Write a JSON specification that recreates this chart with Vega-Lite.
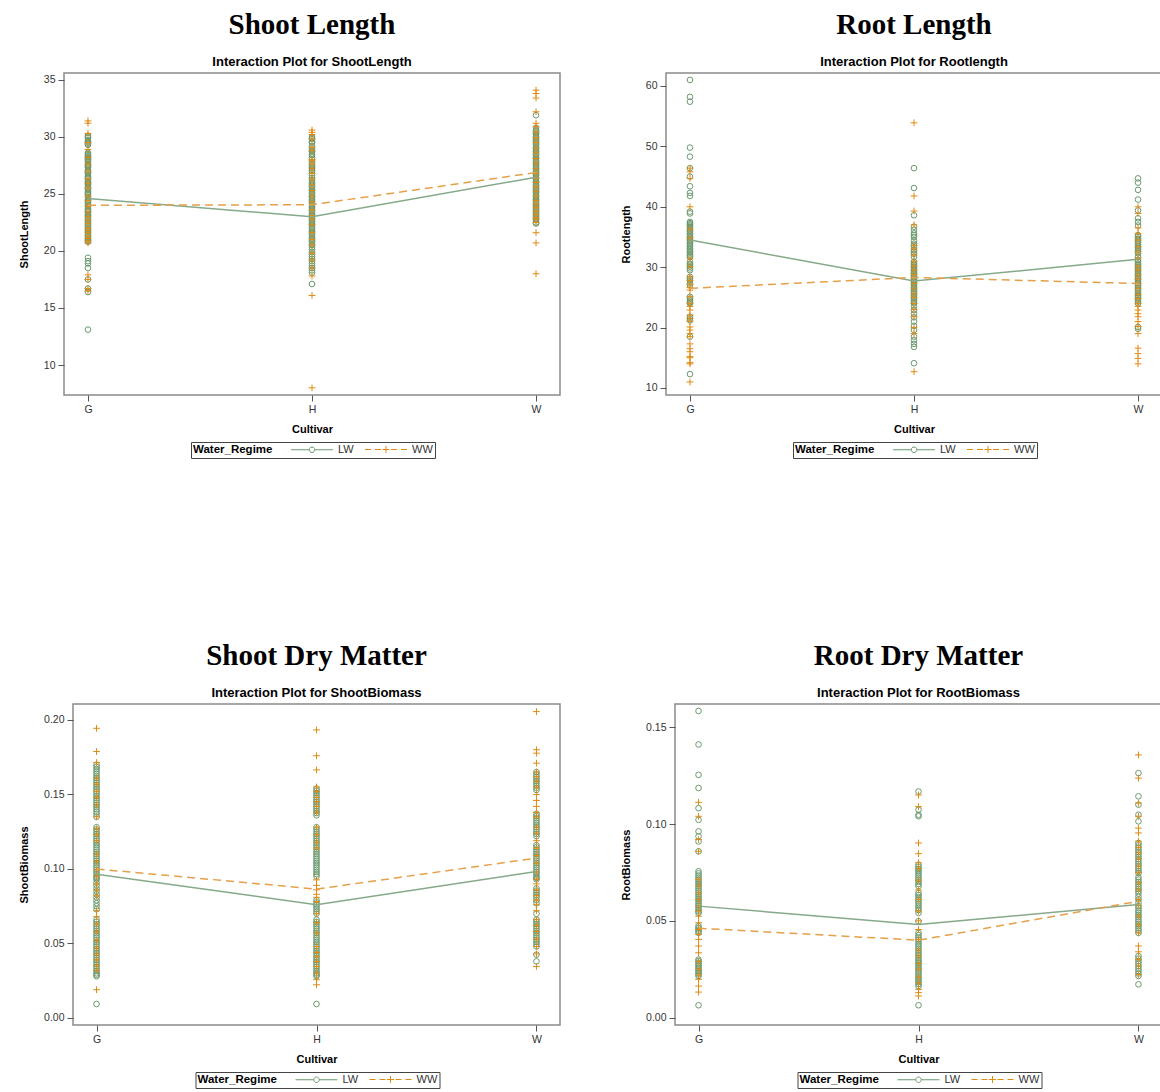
{
"$schema":"https://vega.github.io/schema/vega-lite/v6.json",
"background":"white",
"padding":{"left":16,"top":10,"right":0,"bottom":0},
"columns":2,
"align":"none",
"spacing":{"row":181,"column":0},
"resolve":{"scale":{"color":"independent"},"legend":{"color":"independent"}},
"config":{
 "font":"Liberation Sans",
 "view":{"stroke":"#8a8a8a","strokeWidth":1.5,"fill":"white"},
 "title":{"font":"Liberation Serif","fontSize":29,"fontWeight":"bold","color":"black","subtitleFont":"Liberation Sans","subtitleFontSize":13,"subtitleFontWeight":"bold","subtitleColor":"black","subtitlePadding":16,"offset":4,"anchor":"middle"},
 "axis":{"grid":false,"domain":false,"tickColor":"#555555","tickSize":6,"labelFontSize":10.5,"labelColor":"#333333","labelPadding":3,"titleFontSize":11,"titleFontWeight":"bold","titleColor":"black"},
 "axisY":{"titlePadding":14},
 "axisX":{"labelAngle":0,"titlePadding":9},
 "legend":{"orient":"none","direction":"horizontal","titleOrient":"left","fillColor":"white","strokeColor":"#444444","padding":2,"symbolSize":100,"symbolStrokeWidth":1,"labelOffset":20.5,"symbolOffset":15.5,"columnPadding":9,"titleFontSize":11.5,"titleFontWeight":"bold","titleColor":"black","titlePadding":18,"labelFontSize":11,"labelColor":"#333333"}
},
"datasets":{
"sl":[
{"c":"G","w":"LW","v":30.1},{"c":"G","w":"LW","v":29.9},{"c":"G","w":"LW","v":29.7},{"c":"G","w":"LW","v":29.5},{"c":"G","w":"LW","v":29.3},{"c":"G","w":"LW","v":28.6},{"c":"G","w":"LW","v":28.4},{"c":"G","w":"LW","v":28.2},{"c":"G","w":"LW","v":28.0},{"c":"G","w":"LW","v":27.8},{"c":"G","w":"LW","v":27.5},{"c":"G","w":"LW","v":27.3},{"c":"G","w":"LW","v":27.0},{"c":"G","w":"LW","v":26.8},{"c":"G","w":"LW","v":26.5},{"c":"G","w":"LW","v":26.3},{"c":"G","w":"LW","v":26.0},{"c":"G","w":"LW","v":25.8},{"c":"G","w":"LW","v":25.5},{"c":"G","w":"LW","v":25.2},{"c":"G","w":"LW","v":25.0},{"c":"G","w":"LW","v":24.7},{"c":"G","w":"LW","v":24.4},{"c":"G","w":"LW","v":24.2},{"c":"G","w":"LW","v":23.9},{"c":"G","w":"LW","v":23.6},{"c":"G","w":"LW","v":23.4},{"c":"G","w":"LW","v":23.1},{"c":"G","w":"LW","v":22.8},{"c":"G","w":"LW","v":22.5},{"c":"G","w":"LW","v":22.2},{"c":"G","w":"LW","v":21.9},{"c":"G","w":"LW","v":21.6},{"c":"G","w":"LW","v":21.3},{"c":"G","w":"LW","v":21.0},{"c":"G","w":"LW","v":20.8},{"c":"G","w":"LW","v":19.4},{"c":"G","w":"LW","v":19.1},{"c":"G","w":"LW","v":18.9},{"c":"G","w":"LW","v":18.5},{"c":"G","w":"LW","v":17.5},{"c":"G","w":"LW","v":16.7},{"c":"G","w":"LW","v":16.4},{"c":"G","w":"LW","v":13.1},
{"c":"G","w":"LW","v":30.0},{"c":"G","w":"LW","v":29.6},{"c":"G","w":"LW","v":29.4},{"c":"G","w":"LW","v":28.5},{"c":"G","w":"LW","v":28.3},{"c":"G","w":"LW","v":28.1},{"c":"G","w":"LW","v":27.9},{"c":"G","w":"LW","v":27.6},{"c":"G","w":"LW","v":27.4},{"c":"G","w":"LW","v":27.1},{"c":"G","w":"LW","v":26.9},{"c":"G","w":"LW","v":26.6},{"c":"G","w":"LW","v":26.4},{"c":"G","w":"LW","v":26.1},{"c":"G","w":"LW","v":25.9},{"c":"G","w":"LW","v":25.6},{"c":"G","w":"LW","v":25.4},{"c":"G","w":"LW","v":25.1},{"c":"G","w":"LW","v":24.9},{"c":"G","w":"LW","v":24.5},{"c":"G","w":"LW","v":24.3},{"c":"G","w":"LW","v":24.0},{"c":"G","w":"LW","v":23.7},{"c":"G","w":"LW","v":23.5},{"c":"G","w":"LW","v":23.2},{"c":"G","w":"LW","v":22.9},{"c":"G","w":"LW","v":22.6},{"c":"G","w":"LW","v":22.3},{"c":"G","w":"LW","v":22.0},{"c":"G","w":"LW","v":21.7},{"c":"G","w":"LW","v":21.4},{"c":"G","w":"LW","v":21.1},{"c":"G","w":"LW","v":20.9},
{"c":"H","w":"LW","v":30.0},{"c":"H","w":"LW","v":29.8},{"c":"H","w":"LW","v":29.5},{"c":"H","w":"LW","v":29.0},{"c":"H","w":"LW","v":28.7},{"c":"H","w":"LW","v":28.4},{"c":"H","w":"LW","v":28.0},{"c":"H","w":"LW","v":27.6},{"c":"H","w":"LW","v":27.3},{"c":"H","w":"LW","v":27.0},{"c":"H","w":"LW","v":26.6},{"c":"H","w":"LW","v":26.2},{"c":"H","w":"LW","v":25.9},{"c":"H","w":"LW","v":25.6},{"c":"H","w":"LW","v":25.3},{"c":"H","w":"LW","v":25.0},{"c":"H","w":"LW","v":24.7},{"c":"H","w":"LW","v":24.4},{"c":"H","w":"LW","v":24.1},{"c":"H","w":"LW","v":23.8},{"c":"H","w":"LW","v":23.5},{"c":"H","w":"LW","v":23.2},{"c":"H","w":"LW","v":22.9},{"c":"H","w":"LW","v":22.6},{"c":"H","w":"LW","v":22.3},{"c":"H","w":"LW","v":22.0},{"c":"H","w":"LW","v":21.7},{"c":"H","w":"LW","v":21.4},{"c":"H","w":"LW","v":21.1},{"c":"H","w":"LW","v":20.8},{"c":"H","w":"LW","v":20.5},{"c":"H","w":"LW","v":20.1},{"c":"H","w":"LW","v":19.7},{"c":"H","w":"LW","v":19.3},{"c":"H","w":"LW","v":18.9},{"c":"H","w":"LW","v":18.5},{"c":"H","w":"LW","v":18.1},{"c":"H","w":"LW","v":17.1},
{"c":"H","w":"LW","v":29.9},{"c":"H","w":"LW","v":29.6},{"c":"H","w":"LW","v":29.2},{"c":"H","w":"LW","v":28.8},{"c":"H","w":"LW","v":28.5},{"c":"H","w":"LW","v":28.2},{"c":"H","w":"LW","v":27.8},{"c":"H","w":"LW","v":27.4},{"c":"H","w":"LW","v":27.1},{"c":"H","w":"LW","v":26.8},{"c":"H","w":"LW","v":26.4},{"c":"H","w":"LW","v":26.0},{"c":"H","w":"LW","v":25.7},{"c":"H","w":"LW","v":25.4},{"c":"H","w":"LW","v":25.1},{"c":"H","w":"LW","v":24.8},{"c":"H","w":"LW","v":24.5},{"c":"H","w":"LW","v":24.2},{"c":"H","w":"LW","v":23.9},{"c":"H","w":"LW","v":23.6},{"c":"H","w":"LW","v":23.3},{"c":"H","w":"LW","v":23.0},{"c":"H","w":"LW","v":22.7},{"c":"H","w":"LW","v":22.4},{"c":"H","w":"LW","v":22.1},{"c":"H","w":"LW","v":21.8},{"c":"H","w":"LW","v":21.5},{"c":"H","w":"LW","v":21.2},{"c":"H","w":"LW","v":20.9},{"c":"H","w":"LW","v":20.6},{"c":"H","w":"LW","v":20.3},{"c":"H","w":"LW","v":19.9},{"c":"H","w":"LW","v":19.5},{"c":"H","w":"LW","v":19.1},{"c":"H","w":"LW","v":18.7},{"c":"H","w":"LW","v":18.3},
{"c":"W","w":"LW","v":31.9},{"c":"W","w":"LW","v":30.8},{"c":"W","w":"LW","v":30.5},{"c":"W","w":"LW","v":30.2},{"c":"W","w":"LW","v":29.9},{"c":"W","w":"LW","v":29.6},{"c":"W","w":"LW","v":29.3},{"c":"W","w":"LW","v":29.0},{"c":"W","w":"LW","v":28.7},{"c":"W","w":"LW","v":28.4},{"c":"W","w":"LW","v":28.1},{"c":"W","w":"LW","v":27.8},{"c":"W","w":"LW","v":27.5},{"c":"W","w":"LW","v":27.2},{"c":"W","w":"LW","v":26.9},{"c":"W","w":"LW","v":26.6},{"c":"W","w":"LW","v":26.3},{"c":"W","w":"LW","v":26.0},{"c":"W","w":"LW","v":25.7},{"c":"W","w":"LW","v":25.4},{"c":"W","w":"LW","v":25.1},{"c":"W","w":"LW","v":24.8},{"c":"W","w":"LW","v":24.5},{"c":"W","w":"LW","v":24.2},{"c":"W","w":"LW","v":23.9},{"c":"W","w":"LW","v":23.6},{"c":"W","w":"LW","v":23.3},{"c":"W","w":"LW","v":23.0},{"c":"W","w":"LW","v":22.7},{"c":"W","w":"LW","v":22.4},
{"c":"W","w":"LW","v":30.6},{"c":"W","w":"LW","v":30.3},{"c":"W","w":"LW","v":30.0},{"c":"W","w":"LW","v":29.7},{"c":"W","w":"LW","v":29.4},{"c":"W","w":"LW","v":29.1},{"c":"W","w":"LW","v":28.8},{"c":"W","w":"LW","v":28.5},{"c":"W","w":"LW","v":28.2},{"c":"W","w":"LW","v":27.9},{"c":"W","w":"LW","v":27.6},{"c":"W","w":"LW","v":27.3},{"c":"W","w":"LW","v":27.0},{"c":"W","w":"LW","v":26.7},{"c":"W","w":"LW","v":26.4},{"c":"W","w":"LW","v":26.1},{"c":"W","w":"LW","v":25.8},{"c":"W","w":"LW","v":25.5},{"c":"W","w":"LW","v":25.2},{"c":"W","w":"LW","v":24.9},{"c":"W","w":"LW","v":24.6},{"c":"W","w":"LW","v":24.3},{"c":"W","w":"LW","v":24.0},{"c":"W","w":"LW","v":23.7},{"c":"W","w":"LW","v":23.4},{"c":"W","w":"LW","v":23.1},{"c":"W","w":"LW","v":22.8},{"c":"W","w":"LW","v":22.5},
{"c":"G","w":"WW","v":31.4},{"c":"G","w":"WW","v":31.2},{"c":"G","w":"WW","v":30.3},{"c":"G","w":"WW","v":28.9},{"c":"G","w":"WW","v":27.6},{"c":"G","w":"WW","v":26.3},{"c":"G","w":"WW","v":25.5},{"c":"G","w":"WW","v":24.8},{"c":"G","w":"WW","v":23.9},{"c":"G","w":"WW","v":23.4},{"c":"G","w":"WW","v":23.0},{"c":"G","w":"WW","v":22.4},{"c":"G","w":"WW","v":22.0},{"c":"G","w":"WW","v":21.6},{"c":"G","w":"WW","v":21.3},{"c":"G","w":"WW","v":20.9},{"c":"G","w":"WW","v":20.7},{"c":"G","w":"WW","v":17.9},{"c":"G","w":"WW","v":17.5},{"c":"G","w":"WW","v":16.7},{"c":"G","w":"WW","v":16.5},
{"c":"G","w":"WW","v":29.5},{"c":"G","w":"WW","v":28.2},{"c":"G","w":"WW","v":27.0},{"c":"G","w":"WW","v":25.9},{"c":"G","w":"WW","v":24.4},{"c":"G","w":"WW","v":22.7},{"c":"G","w":"WW","v":21.8},{"c":"G","w":"WW","v":21.1},
{"c":"H","w":"WW","v":30.6},{"c":"H","w":"WW","v":30.4},{"c":"H","w":"WW","v":30.2},{"c":"H","w":"WW","v":29.1},{"c":"H","w":"WW","v":28.0},{"c":"H","w":"WW","v":27.6},{"c":"H","w":"WW","v":27.2},{"c":"H","w":"WW","v":26.3},{"c":"H","w":"WW","v":25.3},{"c":"H","w":"WW","v":24.3},{"c":"H","w":"WW","v":23.6},{"c":"H","w":"WW","v":22.3},{"c":"H","w":"WW","v":21.0},{"c":"H","w":"WW","v":20.5},{"c":"H","w":"WW","v":19.2},{"c":"H","w":"WW","v":18.5},{"c":"H","w":"WW","v":17.8},{"c":"H","w":"WW","v":16.1},{"c":"H","w":"WW","v":8.0},
{"c":"H","w":"WW","v":29.8},{"c":"H","w":"WW","v":28.8},{"c":"H","w":"WW","v":27.9},{"c":"H","w":"WW","v":26.8},{"c":"H","w":"WW","v":25.8},{"c":"H","w":"WW","v":24.8},{"c":"H","w":"WW","v":23.1},{"c":"H","w":"WW","v":22.8},{"c":"H","w":"WW","v":21.6},{"c":"H","w":"WW","v":19.8},
{"c":"W","w":"WW","v":34.1},{"c":"W","w":"WW","v":33.8},{"c":"W","w":"WW","v":33.4},{"c":"W","w":"WW","v":32.2},{"c":"W","w":"WW","v":31.2},{"c":"W","w":"WW","v":30.4},{"c":"W","w":"WW","v":29.5},{"c":"W","w":"WW","v":28.6},{"c":"W","w":"WW","v":27.7},{"c":"W","w":"WW","v":26.8},{"c":"W","w":"WW","v":26.0},{"c":"W","w":"WW","v":25.2},{"c":"W","w":"WW","v":24.4},{"c":"W","w":"WW","v":23.8},{"c":"W","w":"WW","v":23.2},{"c":"W","w":"WW","v":22.8},{"c":"W","w":"WW","v":22.5},{"c":"W","w":"WW","v":21.6},{"c":"W","w":"WW","v":20.7},{"c":"W","w":"WW","v":18.0},
{"c":"W","w":"WW","v":30.9},{"c":"W","w":"WW","v":29.9},{"c":"W","w":"WW","v":29.0},{"c":"W","w":"WW","v":28.1},{"c":"W","w":"WW","v":27.2},{"c":"W","w":"WW","v":26.4},{"c":"W","w":"WW","v":25.6},{"c":"W","w":"WW","v":24.8},{"c":"W","w":"WW","v":24.1},{"c":"W","w":"WW","v":23.5},{"c":"W","w":"WW","v":22.9}
],
"slm":[{"c":"G","w":"LW","v":24.6},{"c":"H","w":"LW","v":23.0},{"c":"W","w":"LW","v":26.46},{"c":"G","w":"WW","v":24.0},{"c":"H","w":"WW","v":24.05},{"c":"W","w":"WW","v":26.87}],
"rl":[
{"c":"G","w":"LW","v":61.0},{"c":"G","w":"LW","v":58.2},{"c":"G","w":"LW","v":57.4},{"c":"G","w":"LW","v":49.8},{"c":"G","w":"LW","v":48.3},{"c":"G","w":"LW","v":46.4},{"c":"G","w":"LW","v":45.0},{"c":"G","w":"LW","v":43.4},{"c":"G","w":"LW","v":42.3},{"c":"G","w":"LW","v":41.8},{"c":"G","w":"LW","v":39.2},{"c":"G","w":"LW","v":38.9},{"c":"G","w":"LW","v":37.5},{"c":"G","w":"LW","v":37.1},{"c":"G","w":"LW","v":36.7},{"c":"G","w":"LW","v":36.1},{"c":"G","w":"LW","v":35.6},{"c":"G","w":"LW","v":35.1},{"c":"G","w":"LW","v":34.6},{"c":"G","w":"LW","v":34.1},{"c":"G","w":"LW","v":33.6},{"c":"G","w":"LW","v":33.1},{"c":"G","w":"LW","v":32.6},{"c":"G","w":"LW","v":32.1},{"c":"G","w":"LW","v":31.7},{"c":"G","w":"LW","v":30.6},{"c":"G","w":"LW","v":30.1},{"c":"G","w":"LW","v":29.5},{"c":"G","w":"LW","v":28.1},{"c":"G","w":"LW","v":27.3},{"c":"G","w":"LW","v":25.1},{"c":"G","w":"LW","v":24.5},{"c":"G","w":"LW","v":24.0},{"c":"G","w":"LW","v":21.8},{"c":"G","w":"LW","v":21.2},{"c":"G","w":"LW","v":18.5},{"c":"G","w":"LW","v":12.3},
{"c":"G","w":"LW","v":37.3},{"c":"G","w":"LW","v":36.9},{"c":"G","w":"LW","v":36.4},{"c":"G","w":"LW","v":35.9},{"c":"G","w":"LW","v":35.4},{"c":"G","w":"LW","v":34.9},{"c":"G","w":"LW","v":34.4},{"c":"G","w":"LW","v":33.9},{"c":"G","w":"LW","v":33.4},{"c":"G","w":"LW","v":32.9},{"c":"G","w":"LW","v":32.4},{"c":"G","w":"LW","v":31.9},{"c":"G","w":"LW","v":30.9},{"c":"G","w":"LW","v":30.4},{"c":"G","w":"LW","v":29.8},{"c":"G","w":"LW","v":28.4},{"c":"G","w":"LW","v":27.8},{"c":"G","w":"LW","v":27.0},{"c":"G","w":"LW","v":24.8},{"c":"G","w":"LW","v":24.2},{"c":"G","w":"LW","v":21.5},
{"c":"H","w":"LW","v":46.4},{"c":"H","w":"LW","v":43.1},{"c":"H","w":"LW","v":38.6},{"c":"H","w":"LW","v":36.7},{"c":"H","w":"LW","v":36.2},{"c":"H","w":"LW","v":35.6},{"c":"H","w":"LW","v":35.0},{"c":"H","w":"LW","v":33.9},{"c":"H","w":"LW","v":33.3},{"c":"H","w":"LW","v":32.8},{"c":"H","w":"LW","v":32.2},{"c":"H","w":"LW","v":31.7},{"c":"H","w":"LW","v":30.6},{"c":"H","w":"LW","v":30.1},{"c":"H","w":"LW","v":29.6},{"c":"H","w":"LW","v":29.1},{"c":"H","w":"LW","v":28.6},{"c":"H","w":"LW","v":28.1},{"c":"H","w":"LW","v":27.6},{"c":"H","w":"LW","v":27.1},{"c":"H","w":"LW","v":26.6},{"c":"H","w":"LW","v":26.1},{"c":"H","w":"LW","v":25.6},{"c":"H","w":"LW","v":25.0},{"c":"H","w":"LW","v":24.5},{"c":"H","w":"LW","v":24.0},{"c":"H","w":"LW","v":22.3},{"c":"H","w":"LW","v":21.7},{"c":"H","w":"LW","v":21.0},{"c":"H","w":"LW","v":20.3},{"c":"H","w":"LW","v":19.6},{"c":"H","w":"LW","v":18.5},{"c":"H","w":"LW","v":17.9},{"c":"H","w":"LW","v":17.3},{"c":"H","w":"LW","v":16.8},{"c":"H","w":"LW","v":14.1},
{"c":"H","w":"LW","v":30.9},{"c":"H","w":"LW","v":30.4},{"c":"H","w":"LW","v":29.9},{"c":"H","w":"LW","v":29.4},{"c":"H","w":"LW","v":28.9},{"c":"H","w":"LW","v":28.4},{"c":"H","w":"LW","v":27.9},{"c":"H","w":"LW","v":27.4},{"c":"H","w":"LW","v":26.9},{"c":"H","w":"LW","v":26.4},{"c":"H","w":"LW","v":25.9},{"c":"H","w":"LW","v":25.3},{"c":"H","w":"LW","v":24.8},{"c":"H","w":"LW","v":24.2},{"c":"H","w":"LW","v":23.5},{"c":"H","w":"LW","v":22.9},{"c":"H","w":"LW","v":35.3},{"c":"H","w":"LW","v":34.4},{"c":"H","w":"LW","v":33.6},{"c":"H","w":"LW","v":32.5},
{"c":"W","w":"LW","v":44.7},{"c":"W","w":"LW","v":44.0},{"c":"W","w":"LW","v":42.8},{"c":"W","w":"LW","v":41.2},{"c":"W","w":"LW","v":39.4},{"c":"W","w":"LW","v":38.1},{"c":"W","w":"LW","v":37.5},{"c":"W","w":"LW","v":36.9},{"c":"W","w":"LW","v":35.0},{"c":"W","w":"LW","v":34.4},{"c":"W","w":"LW","v":33.8},{"c":"W","w":"LW","v":33.2},{"c":"W","w":"LW","v":32.6},{"c":"W","w":"LW","v":31.7},{"c":"W","w":"LW","v":30.6},{"c":"W","w":"LW","v":30.1},{"c":"W","w":"LW","v":29.6},{"c":"W","w":"LW","v":29.0},{"c":"W","w":"LW","v":28.5},{"c":"W","w":"LW","v":28.0},{"c":"W","w":"LW","v":27.4},{"c":"W","w":"LW","v":26.9},{"c":"W","w":"LW","v":26.3},{"c":"W","w":"LW","v":25.7},{"c":"W","w":"LW","v":25.2},{"c":"W","w":"LW","v":24.6},{"c":"W","w":"LW","v":24.0},{"c":"W","w":"LW","v":20.1},{"c":"W","w":"LW","v":19.8},
{"c":"W","w":"LW","v":35.3},{"c":"W","w":"LW","v":34.7},{"c":"W","w":"LW","v":34.1},{"c":"W","w":"LW","v":33.5},{"c":"W","w":"LW","v":32.9},{"c":"W","w":"LW","v":32.3},{"c":"W","w":"LW","v":31.2},{"c":"W","w":"LW","v":30.9},{"c":"W","w":"LW","v":30.4},{"c":"W","w":"LW","v":29.8},{"c":"W","w":"LW","v":29.3},{"c":"W","w":"LW","v":28.8},{"c":"W","w":"LW","v":28.2},{"c":"W","w":"LW","v":27.7},{"c":"W","w":"LW","v":27.1},{"c":"W","w":"LW","v":26.6},{"c":"W","w":"LW","v":26.0},{"c":"W","w":"LW","v":25.4},{"c":"W","w":"LW","v":24.9},{"c":"W","w":"LW","v":24.3},
{"c":"G","w":"WW","v":46.4},{"c":"G","w":"WW","v":45.8},{"c":"G","w":"WW","v":44.7},{"c":"G","w":"WW","v":40.0},{"c":"G","w":"WW","v":36.3},{"c":"G","w":"WW","v":34.8},{"c":"G","w":"WW","v":31.4},{"c":"G","w":"WW","v":28.4},{"c":"G","w":"WW","v":27.1},{"c":"G","w":"WW","v":26.2},{"c":"G","w":"WW","v":25.1},{"c":"G","w":"WW","v":22.9},{"c":"G","w":"WW","v":22.1},{"c":"G","w":"WW","v":21.5},{"c":"G","w":"WW","v":20.1},{"c":"G","w":"WW","v":19.6},{"c":"G","w":"WW","v":18.5},{"c":"G","w":"WW","v":17.3},{"c":"G","w":"WW","v":16.5},{"c":"G","w":"WW","v":15.2},{"c":"G","w":"WW","v":15.0},{"c":"G","w":"WW","v":14.2},{"c":"G","w":"WW","v":14.0},{"c":"G","w":"WW","v":11.0},
{"c":"G","w":"WW","v":30.1},{"c":"G","w":"WW","v":27.8},{"c":"G","w":"WW","v":26.6},{"c":"G","w":"WW","v":24.0},{"c":"G","w":"WW","v":23.5},{"c":"G","w":"WW","v":21.0},{"c":"G","w":"WW","v":19.0},{"c":"G","w":"WW","v":16.0},
{"c":"H","w":"WW","v":53.9},{"c":"H","w":"WW","v":41.8},{"c":"H","w":"WW","v":39.3},{"c":"H","w":"WW","v":37.0},{"c":"H","w":"WW","v":33.6},{"c":"H","w":"WW","v":32.0},{"c":"H","w":"WW","v":29.5},{"c":"H","w":"WW","v":28.3},{"c":"H","w":"WW","v":27.3},{"c":"H","w":"WW","v":25.6},{"c":"H","w":"WW","v":24.0},{"c":"H","w":"WW","v":21.8},{"c":"H","w":"WW","v":19.0},{"c":"H","w":"WW","v":12.7},
{"c":"H","w":"WW","v":33.0},{"c":"H","w":"WW","v":31.0},{"c":"H","w":"WW","v":30.2},{"c":"H","w":"WW","v":28.8},{"c":"H","w":"WW","v":27.8},{"c":"H","w":"WW","v":26.5},{"c":"H","w":"WW","v":25.0},{"c":"H","w":"WW","v":23.0},{"c":"H","w":"WW","v":20.0},
{"c":"W","w":"WW","v":40.0},{"c":"W","w":"WW","v":38.9},{"c":"W","w":"WW","v":35.6},{"c":"W","w":"WW","v":33.4},{"c":"W","w":"WW","v":31.5},{"c":"W","w":"WW","v":30.1},{"c":"W","w":"WW","v":28.7},{"c":"W","w":"WW","v":27.3},{"c":"W","w":"WW","v":25.5},{"c":"W","w":"WW","v":24.0},{"c":"W","w":"WW","v":22.9},{"c":"W","w":"WW","v":21.8},{"c":"W","w":"WW","v":21.0},{"c":"W","w":"WW","v":19.0},{"c":"W","w":"WW","v":16.6},{"c":"W","w":"WW","v":15.7},{"c":"W","w":"WW","v":14.9},{"c":"W","w":"WW","v":14.0},
{"c":"W","w":"WW","v":36.5},{"c":"W","w":"WW","v":34.5},{"c":"W","w":"WW","v":32.5},{"c":"W","w":"WW","v":29.5},{"c":"W","w":"WW","v":28.0},{"c":"W","w":"WW","v":26.5},{"c":"W","w":"WW","v":24.8},{"c":"W","w":"WW","v":23.5},{"c":"W","w":"WW","v":22.3},{"c":"W","w":"WW","v":20.2}
],
"rlm":[{"c":"G","w":"LW","v":34.5},{"c":"H","w":"LW","v":27.7},{"c":"W","w":"LW","v":31.3},{"c":"G","w":"WW","v":26.5},{"c":"H","w":"WW","v":28.3},{"c":"W","w":"WW","v":27.3}],
"sb":[
{"c":"G","w":"LW","v":0.170},{"c":"G","w":"LW","v":0.167},{"c":"G","w":"LW","v":0.164},{"c":"G","w":"LW","v":0.161},{"c":"G","w":"LW","v":0.158},{"c":"G","w":"LW","v":0.155},{"c":"G","w":"LW","v":0.152},{"c":"G","w":"LW","v":0.149},{"c":"G","w":"LW","v":0.146},{"c":"G","w":"LW","v":0.143},{"c":"G","w":"LW","v":0.140},{"c":"G","w":"LW","v":0.137},{"c":"G","w":"LW","v":0.135},{"c":"G","w":"LW","v":0.128},{"c":"G","w":"LW","v":0.125},{"c":"G","w":"LW","v":0.122},{"c":"G","w":"LW","v":0.119},{"c":"G","w":"LW","v":0.116},{"c":"G","w":"LW","v":0.113},{"c":"G","w":"LW","v":0.110},{"c":"G","w":"LW","v":0.107},{"c":"G","w":"LW","v":0.104},{"c":"G","w":"LW","v":0.101},{"c":"G","w":"LW","v":0.098},{"c":"G","w":"LW","v":0.095},{"c":"G","w":"LW","v":0.093},{"c":"G","w":"LW","v":0.089},{"c":"G","w":"LW","v":0.085},{"c":"G","w":"LW","v":0.081},{"c":"G","w":"LW","v":0.077},{"c":"G","w":"LW","v":0.073},{"c":"G","w":"LW","v":0.066},{"c":"G","w":"LW","v":0.063},{"c":"G","w":"LW","v":0.060},{"c":"G","w":"LW","v":0.057},{"c":"G","w":"LW","v":0.054},{"c":"G","w":"LW","v":0.051},{"c":"G","w":"LW","v":0.048},{"c":"G","w":"LW","v":0.045},{"c":"G","w":"LW","v":0.042},{"c":"G","w":"LW","v":0.039},{"c":"G","w":"LW","v":0.036},{"c":"G","w":"LW","v":0.033},{"c":"G","w":"LW","v":0.030},{"c":"G","w":"LW","v":0.028},{"c":"G","w":"LW","v":0.0094},
{"c":"G","w":"LW","v":0.1685},{"c":"G","w":"LW","v":0.1655},{"c":"G","w":"LW","v":0.1625},{"c":"G","w":"LW","v":0.1595},{"c":"G","w":"LW","v":0.1565},{"c":"G","w":"LW","v":0.1535},{"c":"G","w":"LW","v":0.1505},{"c":"G","w":"LW","v":0.1475},{"c":"G","w":"LW","v":0.1445},{"c":"G","w":"LW","v":0.1415},{"c":"G","w":"LW","v":0.1385},{"c":"G","w":"LW","v":0.1265},{"c":"G","w":"LW","v":0.1235},{"c":"G","w":"LW","v":0.1205},{"c":"G","w":"LW","v":0.1175},{"c":"G","w":"LW","v":0.1145},{"c":"G","w":"LW","v":0.1115},{"c":"G","w":"LW","v":0.1085},{"c":"G","w":"LW","v":0.1055},{"c":"G","w":"LW","v":0.1025},{"c":"G","w":"LW","v":0.0995},{"c":"G","w":"LW","v":0.0965},{"c":"G","w":"LW","v":0.094},{"c":"G","w":"LW","v":0.091},{"c":"G","w":"LW","v":0.087},{"c":"G","w":"LW","v":0.083},{"c":"G","w":"LW","v":0.079},{"c":"G","w":"LW","v":0.075},{"c":"G","w":"LW","v":0.0645},{"c":"G","w":"LW","v":0.0615},{"c":"G","w":"LW","v":0.0585},{"c":"G","w":"LW","v":0.0555},{"c":"G","w":"LW","v":0.0525},{"c":"G","w":"LW","v":0.0495},{"c":"G","w":"LW","v":0.0465},{"c":"G","w":"LW","v":0.0435},{"c":"G","w":"LW","v":0.0405},{"c":"G","w":"LW","v":0.0375},{"c":"G","w":"LW","v":0.0345},{"c":"G","w":"LW","v":0.0315},{"c":"G","w":"LW","v":0.029},
{"c":"H","w":"LW","v":0.154},{"c":"H","w":"LW","v":0.151},{"c":"H","w":"LW","v":0.148},{"c":"H","w":"LW","v":0.145},{"c":"H","w":"LW","v":0.142},{"c":"H","w":"LW","v":0.139},{"c":"H","w":"LW","v":0.136},{"c":"H","w":"LW","v":0.128},{"c":"H","w":"LW","v":0.125},{"c":"H","w":"LW","v":0.122},{"c":"H","w":"LW","v":0.119},{"c":"H","w":"LW","v":0.116},{"c":"H","w":"LW","v":0.113},{"c":"H","w":"LW","v":0.110},{"c":"H","w":"LW","v":0.107},{"c":"H","w":"LW","v":0.104},{"c":"H","w":"LW","v":0.101},{"c":"H","w":"LW","v":0.098},{"c":"H","w":"LW","v":0.095},{"c":"H","w":"LW","v":0.079},{"c":"H","w":"LW","v":0.076},{"c":"H","w":"LW","v":0.073},{"c":"H","w":"LW","v":0.070},{"c":"H","w":"LW","v":0.066},{"c":"H","w":"LW","v":0.063},{"c":"H","w":"LW","v":0.060},{"c":"H","w":"LW","v":0.057},{"c":"H","w":"LW","v":0.054},{"c":"H","w":"LW","v":0.051},{"c":"H","w":"LW","v":0.048},{"c":"H","w":"LW","v":0.045},{"c":"H","w":"LW","v":0.042},{"c":"H","w":"LW","v":0.039},{"c":"H","w":"LW","v":0.036},{"c":"H","w":"LW","v":0.033},{"c":"H","w":"LW","v":0.030},{"c":"H","w":"LW","v":0.028},{"c":"H","w":"LW","v":0.0094},
{"c":"H","w":"LW","v":0.1525},{"c":"H","w":"LW","v":0.1495},{"c":"H","w":"LW","v":0.1465},{"c":"H","w":"LW","v":0.1435},{"c":"H","w":"LW","v":0.1405},{"c":"H","w":"LW","v":0.1375},{"c":"H","w":"LW","v":0.1265},{"c":"H","w":"LW","v":0.1235},{"c":"H","w":"LW","v":0.1205},{"c":"H","w":"LW","v":0.1175},{"c":"H","w":"LW","v":0.1145},{"c":"H","w":"LW","v":0.1115},{"c":"H","w":"LW","v":0.1085},{"c":"H","w":"LW","v":0.1055},{"c":"H","w":"LW","v":0.1025},{"c":"H","w":"LW","v":0.0995},{"c":"H","w":"LW","v":0.0965},{"c":"H","w":"LW","v":0.0775},{"c":"H","w":"LW","v":0.0745},{"c":"H","w":"LW","v":0.0715},{"c":"H","w":"LW","v":0.0645},{"c":"H","w":"LW","v":0.0615},{"c":"H","w":"LW","v":0.0585},{"c":"H","w":"LW","v":0.0555},{"c":"H","w":"LW","v":0.0525},{"c":"H","w":"LW","v":0.0495},{"c":"H","w":"LW","v":0.0465},{"c":"H","w":"LW","v":0.0435},{"c":"H","w":"LW","v":0.0405},{"c":"H","w":"LW","v":0.0375},{"c":"H","w":"LW","v":0.0345},{"c":"H","w":"LW","v":0.0315},{"c":"H","w":"LW","v":0.029},
{"c":"W","w":"LW","v":0.165},{"c":"W","w":"LW","v":0.162},{"c":"W","w":"LW","v":0.159},{"c":"W","w":"LW","v":0.156},{"c":"W","w":"LW","v":0.153},{"c":"W","w":"LW","v":0.137},{"c":"W","w":"LW","v":0.134},{"c":"W","w":"LW","v":0.131},{"c":"W","w":"LW","v":0.128},{"c":"W","w":"LW","v":0.125},{"c":"W","w":"LW","v":0.122},{"c":"W","w":"LW","v":0.116},{"c":"W","w":"LW","v":0.113},{"c":"W","w":"LW","v":0.110},{"c":"W","w":"LW","v":0.107},{"c":"W","w":"LW","v":0.104},{"c":"W","w":"LW","v":0.101},{"c":"W","w":"LW","v":0.098},{"c":"W","w":"LW","v":0.095},{"c":"W","w":"LW","v":0.093},{"c":"W","w":"LW","v":0.087},{"c":"W","w":"LW","v":0.084},{"c":"W","w":"LW","v":0.081},{"c":"W","w":"LW","v":0.077},{"c":"W","w":"LW","v":0.070},{"c":"W","w":"LW","v":0.066},{"c":"W","w":"LW","v":0.063},{"c":"W","w":"LW","v":0.060},{"c":"W","w":"LW","v":0.057},{"c":"W","w":"LW","v":0.054},{"c":"W","w":"LW","v":0.051},{"c":"W","w":"LW","v":0.048},{"c":"W","w":"LW","v":0.0425},{"c":"W","w":"LW","v":0.038},
{"c":"W","w":"LW","v":0.1635},{"c":"W","w":"LW","v":0.1605},{"c":"W","w":"LW","v":0.1575},{"c":"W","w":"LW","v":0.1545},{"c":"W","w":"LW","v":0.1355},{"c":"W","w":"LW","v":0.1325},{"c":"W","w":"LW","v":0.1295},{"c":"W","w":"LW","v":0.1265},{"c":"W","w":"LW","v":0.1235},{"c":"W","w":"LW","v":0.1145},{"c":"W","w":"LW","v":0.1115},{"c":"W","w":"LW","v":0.1085},{"c":"W","w":"LW","v":0.1055},{"c":"W","w":"LW","v":0.1025},{"c":"W","w":"LW","v":0.0995},{"c":"W","w":"LW","v":0.0965},{"c":"W","w":"LW","v":0.094},{"c":"W","w":"LW","v":0.0855},{"c":"W","w":"LW","v":0.0825},{"c":"W","w":"LW","v":0.079},{"c":"W","w":"LW","v":0.0645},{"c":"W","w":"LW","v":0.0615},{"c":"W","w":"LW","v":0.0585},{"c":"W","w":"LW","v":0.0555},{"c":"W","w":"LW","v":0.0525},{"c":"W","w":"LW","v":0.0495},
{"c":"G","w":"WW","v":0.1944},{"c":"G","w":"WW","v":0.1788},{"c":"G","w":"WW","v":0.1714},{"c":"G","w":"WW","v":0.161},{"c":"G","w":"WW","v":0.152},{"c":"G","w":"WW","v":0.143},{"c":"G","w":"WW","v":0.127},{"c":"G","w":"WW","v":0.119},{"c":"G","w":"WW","v":0.110},{"c":"G","w":"WW","v":0.0994},{"c":"G","w":"WW","v":0.090},{"c":"G","w":"WW","v":0.082},{"c":"G","w":"WW","v":0.068},{"c":"G","w":"WW","v":0.058},{"c":"G","w":"WW","v":0.047},{"c":"G","w":"WW","v":0.039},{"c":"G","w":"WW","v":0.032},{"c":"G","w":"WW","v":0.019},
{"c":"G","w":"WW","v":0.157},{"c":"G","w":"WW","v":0.148},{"c":"G","w":"WW","v":0.135},{"c":"G","w":"WW","v":0.123},{"c":"G","w":"WW","v":0.105},{"c":"G","w":"WW","v":0.095},{"c":"G","w":"WW","v":0.086},{"c":"G","w":"WW","v":0.072},{"c":"G","w":"WW","v":0.063},{"c":"G","w":"WW","v":0.052},{"c":"G","w":"WW","v":0.043},{"c":"G","w":"WW","v":0.035},
{"c":"H","w":"WW","v":0.1933},{"c":"H","w":"WW","v":0.176},{"c":"H","w":"WW","v":0.1665},{"c":"H","w":"WW","v":0.155},{"c":"H","w":"WW","v":0.148},{"c":"H","w":"WW","v":0.142},{"c":"H","w":"WW","v":0.128},{"c":"H","w":"WW","v":0.118},{"c":"H","w":"WW","v":0.0927},{"c":"H","w":"WW","v":0.086},{"c":"H","w":"WW","v":0.083},{"c":"H","w":"WW","v":0.078},{"c":"H","w":"WW","v":0.064},{"c":"H","w":"WW","v":0.048},{"c":"H","w":"WW","v":0.041},{"c":"H","w":"WW","v":0.0346},{"c":"H","w":"WW","v":0.0257},{"c":"H","w":"WW","v":0.0223},
{"c":"H","w":"WW","v":0.152},{"c":"H","w":"WW","v":0.145},{"c":"H","w":"WW","v":0.138},{"c":"H","w":"WW","v":0.123},{"c":"H","w":"WW","v":0.114},{"c":"H","w":"WW","v":0.089},{"c":"H","w":"WW","v":0.081},{"c":"H","w":"WW","v":0.070},{"c":"H","w":"WW","v":0.057},{"c":"H","w":"WW","v":0.044},{"c":"H","w":"WW","v":0.038},{"c":"H","w":"WW","v":0.030},
{"c":"W","w":"WW","v":0.2056},{"c":"W","w":"WW","v":0.180},{"c":"W","w":"WW","v":0.1777},{"c":"W","w":"WW","v":0.171},{"c":"W","w":"WW","v":0.162},{"c":"W","w":"WW","v":0.159},{"c":"W","w":"WW","v":0.146},{"c":"W","w":"WW","v":0.142},{"c":"W","w":"WW","v":0.135},{"c":"W","w":"WW","v":0.124},{"c":"W","w":"WW","v":0.114},{"c":"W","w":"WW","v":0.104},{"c":"W","w":"WW","v":0.093},{"c":"W","w":"WW","v":0.086},{"c":"W","w":"WW","v":0.082},{"c":"W","w":"WW","v":0.076},{"c":"W","w":"WW","v":0.066},{"c":"W","w":"WW","v":0.058},{"c":"W","w":"WW","v":0.048},{"c":"W","w":"WW","v":0.0346},
{"c":"W","w":"WW","v":0.165},{"c":"W","w":"WW","v":0.155},{"c":"W","w":"WW","v":0.150},{"c":"W","w":"WW","v":0.138},{"c":"W","w":"WW","v":0.128},{"c":"W","w":"WW","v":0.119},{"c":"W","w":"WW","v":0.109},{"c":"W","w":"WW","v":0.098},{"c":"W","w":"WW","v":0.090},{"c":"W","w":"WW","v":0.079},{"c":"W","w":"WW","v":0.072},{"c":"W","w":"WW","v":0.062},{"c":"W","w":"WW","v":0.053},{"c":"W","w":"WW","v":0.043}
],
"sbm":[{"c":"G","w":"LW","v":0.0965},{"c":"H","w":"LW","v":0.076},{"c":"W","w":"LW","v":0.0983},{"c":"G","w":"WW","v":0.100},{"c":"H","w":"WW","v":0.0865},{"c":"W","w":"WW","v":0.1073}],
"rb":[
{"c":"G","w":"LW","v":0.1584},{"c":"G","w":"LW","v":0.1411},{"c":"G","w":"LW","v":0.1254},{"c":"G","w":"LW","v":0.1186},{"c":"G","w":"LW","v":0.1082},{"c":"G","w":"LW","v":0.1022},{"c":"G","w":"LW","v":0.0962},{"c":"G","w":"LW","v":0.0936},{"c":"G","w":"LW","v":0.091},{"c":"G","w":"LW","v":0.0859},{"c":"G","w":"LW","v":0.0756},{"c":"G","w":"LW","v":0.0734},{"c":"G","w":"LW","v":0.0712},{"c":"G","w":"LW","v":0.069},{"c":"G","w":"LW","v":0.0668},{"c":"G","w":"LW","v":0.0646},{"c":"G","w":"LW","v":0.0624},{"c":"G","w":"LW","v":0.0602},{"c":"G","w":"LW","v":0.058},{"c":"G","w":"LW","v":0.0558},{"c":"G","w":"LW","v":0.0541},{"c":"G","w":"LW","v":0.0473},{"c":"G","w":"LW","v":0.0455},{"c":"G","w":"LW","v":0.0438},{"c":"G","w":"LW","v":0.030},{"c":"G","w":"LW","v":0.0283},{"c":"G","w":"LW","v":0.0266},{"c":"G","w":"LW","v":0.0249},{"c":"G","w":"LW","v":0.0232},{"c":"G","w":"LW","v":0.0215},{"c":"G","w":"LW","v":0.0064},
{"c":"G","w":"LW","v":0.0745},{"c":"G","w":"LW","v":0.0723},{"c":"G","w":"LW","v":0.0701},{"c":"G","w":"LW","v":0.0679},{"c":"G","w":"LW","v":0.0657},{"c":"G","w":"LW","v":0.0635},{"c":"G","w":"LW","v":0.0613},{"c":"G","w":"LW","v":0.0591},{"c":"G","w":"LW","v":0.0569},{"c":"G","w":"LW","v":0.0549},{"c":"G","w":"LW","v":0.0464},{"c":"G","w":"LW","v":0.0446},{"c":"G","w":"LW","v":0.0292},{"c":"G","w":"LW","v":0.0275},{"c":"G","w":"LW","v":0.0258},{"c":"G","w":"LW","v":0.024},{"c":"G","w":"LW","v":0.0223},
{"c":"H","w":"LW","v":0.1168},{"c":"H","w":"LW","v":0.1074},{"c":"H","w":"LW","v":0.1048},{"c":"H","w":"LW","v":0.104},{"c":"H","w":"LW","v":0.079},{"c":"H","w":"LW","v":0.0768},{"c":"H","w":"LW","v":0.0746},{"c":"H","w":"LW","v":0.0724},{"c":"H","w":"LW","v":0.0702},{"c":"H","w":"LW","v":0.0679},{"c":"H","w":"LW","v":0.0644},{"c":"H","w":"LW","v":0.0622},{"c":"H","w":"LW","v":0.060},{"c":"H","w":"LW","v":0.0578},{"c":"H","w":"LW","v":0.0556},{"c":"H","w":"LW","v":0.0541},{"c":"H","w":"LW","v":0.0498},{"c":"H","w":"LW","v":0.0438},{"c":"H","w":"LW","v":0.0415},{"c":"H","w":"LW","v":0.0392},{"c":"H","w":"LW","v":0.0369},{"c":"H","w":"LW","v":0.0346},{"c":"H","w":"LW","v":0.0323},{"c":"H","w":"LW","v":0.030},{"c":"H","w":"LW","v":0.0283},{"c":"H","w":"LW","v":0.0263},{"c":"H","w":"LW","v":0.0243},{"c":"H","w":"LW","v":0.0223},{"c":"H","w":"LW","v":0.0203},{"c":"H","w":"LW","v":0.0183},{"c":"H","w":"LW","v":0.0163},{"c":"H","w":"LW","v":0.0064},
{"c":"H","w":"LW","v":0.0779},{"c":"H","w":"LW","v":0.0757},{"c":"H","w":"LW","v":0.0735},{"c":"H","w":"LW","v":0.0713},{"c":"H","w":"LW","v":0.069},{"c":"H","w":"LW","v":0.0633},{"c":"H","w":"LW","v":0.0611},{"c":"H","w":"LW","v":0.0589},{"c":"H","w":"LW","v":0.0567},{"c":"H","w":"LW","v":0.0426},{"c":"H","w":"LW","v":0.0403},{"c":"H","w":"LW","v":0.038},{"c":"H","w":"LW","v":0.0357},{"c":"H","w":"LW","v":0.0334},{"c":"H","w":"LW","v":0.0311},{"c":"H","w":"LW","v":0.0291},{"c":"H","w":"LW","v":0.0273},{"c":"H","w":"LW","v":0.0253},{"c":"H","w":"LW","v":0.0233},{"c":"H","w":"LW","v":0.0213},{"c":"H","w":"LW","v":0.0193},{"c":"H","w":"LW","v":0.0173},
{"c":"W","w":"LW","v":0.1263},{"c":"W","w":"LW","v":0.1143},{"c":"W","w":"LW","v":0.110},{"c":"W","w":"LW","v":0.1048},{"c":"W","w":"LW","v":0.1014},{"c":"W","w":"LW","v":0.0902},{"c":"W","w":"LW","v":0.0878},{"c":"W","w":"LW","v":0.0854},{"c":"W","w":"LW","v":0.083},{"c":"W","w":"LW","v":0.0806},{"c":"W","w":"LW","v":0.0782},{"c":"W","w":"LW","v":0.0758},{"c":"W","w":"LW","v":0.0747},{"c":"W","w":"LW","v":0.0713},{"c":"W","w":"LW","v":0.0689},{"c":"W","w":"LW","v":0.0665},{"c":"W","w":"LW","v":0.0641},{"c":"W","w":"LW","v":0.061},{"c":"W","w":"LW","v":0.0576},{"c":"W","w":"LW","v":0.0553},{"c":"W","w":"LW","v":0.053},{"c":"W","w":"LW","v":0.0507},{"c":"W","w":"LW","v":0.0484},{"c":"W","w":"LW","v":0.0461},{"c":"W","w":"LW","v":0.0438},{"c":"W","w":"LW","v":0.0318},{"c":"W","w":"LW","v":0.0292},{"c":"W","w":"LW","v":0.0266},{"c":"W","w":"LW","v":0.024},{"c":"W","w":"LW","v":0.0215},{"c":"W","w":"LW","v":0.0172},
{"c":"W","w":"LW","v":0.089},{"c":"W","w":"LW","v":0.0866},{"c":"W","w":"LW","v":0.0842},{"c":"W","w":"LW","v":0.0818},{"c":"W","w":"LW","v":0.0794},{"c":"W","w":"LW","v":0.077},{"c":"W","w":"LW","v":0.0725},{"c":"W","w":"LW","v":0.0701},{"c":"W","w":"LW","v":0.0677},{"c":"W","w":"LW","v":0.0653},{"c":"W","w":"LW","v":0.0625},{"c":"W","w":"LW","v":0.0593},{"c":"W","w":"LW","v":0.0565},{"c":"W","w":"LW","v":0.0542},{"c":"W","w":"LW","v":0.0519},{"c":"W","w":"LW","v":0.0496},{"c":"W","w":"LW","v":0.0473},{"c":"W","w":"LW","v":0.045},{"c":"W","w":"LW","v":0.0305},{"c":"W","w":"LW","v":0.0279},{"c":"W","w":"LW","v":0.0253},{"c":"W","w":"LW","v":0.0228},
{"c":"G","w":"WW","v":0.1112},{"c":"G","w":"WW","v":0.104},{"c":"G","w":"WW","v":0.092},{"c":"G","w":"WW","v":0.0859},{"c":"G","w":"WW","v":0.0713},{"c":"G","w":"WW","v":0.0644},{"c":"G","w":"WW","v":0.0576},{"c":"G","w":"WW","v":0.0524},{"c":"G","w":"WW","v":0.0455},{"c":"G","w":"WW","v":0.0404},{"c":"G","w":"WW","v":0.0335},{"c":"G","w":"WW","v":0.025},{"c":"G","w":"WW","v":0.0198},{"c":"G","w":"WW","v":0.0163},{"c":"G","w":"WW","v":0.0132},
{"c":"G","w":"WW","v":0.068},{"c":"G","w":"WW","v":0.061},{"c":"G","w":"WW","v":0.055},{"c":"G","w":"WW","v":0.049},{"c":"G","w":"WW","v":0.043},{"c":"G","w":"WW","v":0.037},{"c":"G","w":"WW","v":0.029},{"c":"G","w":"WW","v":0.022},
{"c":"H","w":"WW","v":0.115},{"c":"H","w":"WW","v":0.109},{"c":"H","w":"WW","v":0.0902},{"c":"H","w":"WW","v":0.0847},{"c":"H","w":"WW","v":0.077},{"c":"H","w":"WW","v":0.061},{"c":"H","w":"WW","v":0.0455},{"c":"H","w":"WW","v":0.0404},{"c":"H","w":"WW","v":0.0318},{"c":"H","w":"WW","v":0.025},{"c":"H","w":"WW","v":0.018},{"c":"H","w":"WW","v":0.0146},{"c":"H","w":"WW","v":0.0129},{"c":"H","w":"WW","v":0.0112},
{"c":"H","w":"WW","v":0.080},{"c":"H","w":"WW","v":0.071},{"c":"H","w":"WW","v":0.066},{"c":"H","w":"WW","v":0.055},{"c":"H","w":"WW","v":0.050},{"c":"H","w":"WW","v":0.035},{"c":"H","w":"WW","v":0.028},{"c":"H","w":"WW","v":0.021},
{"c":"W","w":"WW","v":0.1357},{"c":"W","w":"WW","v":0.1237},{"c":"W","w":"WW","v":0.1108},{"c":"W","w":"WW","v":0.104},{"c":"W","w":"WW","v":0.0979},{"c":"W","w":"WW","v":0.0954},{"c":"W","w":"WW","v":0.0911},{"c":"W","w":"WW","v":0.0851},{"c":"W","w":"WW","v":0.0782},{"c":"W","w":"WW","v":0.0696},{"c":"W","w":"WW","v":0.061},{"c":"W","w":"WW","v":0.0524},{"c":"W","w":"WW","v":0.0438},{"c":"W","w":"WW","v":0.037},{"c":"W","w":"WW","v":0.030},{"c":"W","w":"WW","v":0.0266},{"c":"W","w":"WW","v":0.0223},
{"c":"W","w":"WW","v":0.088},{"c":"W","w":"WW","v":0.082},{"c":"W","w":"WW","v":0.075},{"c":"W","w":"WW","v":0.066},{"c":"W","w":"WW","v":0.058},{"c":"W","w":"WW","v":0.048},{"c":"W","w":"WW","v":0.034}
],
"rbm":[{"c":"G","w":"LW","v":0.0576},{"c":"H","w":"LW","v":0.0481},{"c":"W","w":"LW","v":0.0584},{"c":"G","w":"WW","v":0.0462},{"c":"H","w":"WW","v":0.040},{"c":"W","w":"WW","v":0.0601}]
},
"concat":[
{"width":1,"height":1,"data":{"values":[]},"mark":"point","view":{"stroke":null,"fill":null}},
{"spacing":58,"resolve":{"scale":{"color":"independent"},"legend":{"color":"independent"}},"hconcat":[
 {"title":{"text":"Shoot Length","subtitle":"Interaction Plot for ShootLength"},"width":496,"height":322,
  "encoding":{"x":{"field":"c","type":"nominal","title":"Cultivar","scale":{"type":"point","padding":0.107,"domain":["G","H","W"]}},
              "y":{"field":"v","type":"quantitative","title":"ShootLength","scale":{"domain":[7.37,35.6],"nice":false,"zero":false},"axis":{"values":[10,15,20,25,30,35]}}},
  "layer":[
   {"data":{"name":"sl"},"mark":{"type":"point","filled":false,"strokeWidth":1,"size":32,"opacity":1},
    "encoding":{"color":{"field":"w","type":"nominal","scale":{"domain":["LW","WW"],"range":["#6a9a6e","#e08a12"]},
      "legend":{"title":"Water_Regime","legendX":127,"legendY":369,"symbolType":{"expr":"datum.value === 'LW' ? 'M-4.2,0H-0.55M0.55,0H4.2M0.55,0A0.55,0.55 0 1,1 -0.55,0A0.55,0.55 0 1,1 0.55,0' : 'M-4.2,0H-3M-2.2,0H-1M1,0H2.2M3,0H4.2M-0.7,0H0.7M0,-0.7V0.7'"}}},
     "shape":{"condition":{"test":"datum.w === 'WW'","value":"M-1.2,0H1.2M0,-1.2V1.2"},"value":"circle"}}},
   {"data":{"name":"slm"},"transform":[{"filter":"datum.w === 'LW'"}],"mark":{"type":"line","stroke":"#86a98a","strokeWidth":1.5},"encoding":{}},
   {"data":{"name":"slm"},"transform":[{"filter":"datum.w === 'WW'"}],"mark":{"type":"line","stroke":"#e5a04a","strokeWidth":1.5,"strokeDash":[8,5]},"encoding":{}}
  ]},
 {"title":{"text":"Root Length","subtitle":"Interaction Plot for Rootlength"},"width":496,"height":322,
  "encoding":{"x":{"field":"c","type":"nominal","title":"Cultivar","scale":{"type":"point","padding":0.107,"domain":["G","H","W"]}},
              "y":{"field":"v","type":"quantitative","title":"Rootlength","scale":{"domain":[8.84,62.15],"nice":false,"zero":false},"axis":{"values":[10,20,30,40,50,60]}}},
  "layer":[
   {"data":{"name":"rl"},"mark":{"type":"point","filled":false,"strokeWidth":1,"size":32,"opacity":1},
    "encoding":{"color":{"field":"w","type":"nominal","scale":{"domain":["LW","WW"],"range":["#6a9a6e","#e08a12"]},
      "legend":{"title":"Water_Regime","legendX":127,"legendY":369,"symbolType":{"expr":"datum.value === 'LW' ? 'M-4.2,0H-0.55M0.55,0H4.2M0.55,0A0.55,0.55 0 1,1 -0.55,0A0.55,0.55 0 1,1 0.55,0' : 'M-4.2,0H-3M-2.2,0H-1M1,0H2.2M3,0H4.2M-0.7,0H0.7M0,-0.7V0.7'"}}},
     "shape":{"condition":{"test":"datum.w === 'WW'","value":"M-1.2,0H1.2M0,-1.2V1.2"},"value":"circle"}}},
   {"data":{"name":"rlm"},"transform":[{"filter":"datum.w === 'LW'"}],"mark":{"type":"line","stroke":"#86a98a","strokeWidth":1.5},"encoding":{}},
   {"data":{"name":"rlm"},"transform":[{"filter":"datum.w === 'WW'"}],"mark":{"type":"line","stroke":"#e5a04a","strokeWidth":1.5,"strokeDash":[8,5]},"encoding":{}}
  ]}
]},
{"width":1,"height":1,"data":{"values":[]},"mark":"point","view":{"stroke":null,"fill":null}},
{"spacing":58,"resolve":{"scale":{"color":"independent"},"legend":{"color":"independent"}},"hconcat":[
 {"title":{"text":"Shoot Dry Matter","subtitle":"Interaction Plot for ShootBiomass"},"width":487,"height":321,
  "encoding":{"x":{"field":"c","type":"nominal","title":"Cultivar","scale":{"type":"point","padding":0.107,"domain":["G","H","W"]}},
              "y":{"field":"v","type":"quantitative","title":"ShootBiomass","scale":{"domain":[-0.0047,0.2107],"nice":false,"zero":false},"axis":{"values":[0,0.05,0.1,0.15,0.2],"format":".2f"}}},
  "layer":[
   {"data":{"name":"sb"},"mark":{"type":"point","filled":false,"strokeWidth":1,"size":32,"opacity":1},
    "encoding":{"color":{"field":"w","type":"nominal","scale":{"domain":["LW","WW"],"range":["#6a9a6e","#e08a12"]},
      "legend":{"title":"Water_Regime","legendX":122.5,"legendY":368,"symbolType":{"expr":"datum.value === 'LW' ? 'M-4.2,0H-0.55M0.55,0H4.2M0.55,0A0.55,0.55 0 1,1 -0.55,0A0.55,0.55 0 1,1 0.55,0' : 'M-4.2,0H-3M-2.2,0H-1M1,0H2.2M3,0H4.2M-0.7,0H0.7M0,-0.7V0.7'"}}},
     "shape":{"condition":{"test":"datum.w === 'WW'","value":"M-1.2,0H1.2M0,-1.2V1.2"},"value":"circle"}}},
   {"data":{"name":"sbm"},"transform":[{"filter":"datum.w === 'LW'"}],"mark":{"type":"line","stroke":"#86a98a","strokeWidth":1.5},"encoding":{}},
   {"data":{"name":"sbm"},"transform":[{"filter":"datum.w === 'WW'"}],"mark":{"type":"line","stroke":"#e5a04a","strokeWidth":1.5,"strokeDash":[8,5]},"encoding":{}}
  ]},
 {"title":{"text":"Root Dry Matter","subtitle":"Interaction Plot for RootBiomass"},"width":487,"height":321,
  "encoding":{"x":{"field":"c","type":"nominal","title":"Cultivar","scale":{"type":"point","padding":0.107,"domain":["G","H","W"]}},
              "y":{"field":"v","type":"quantitative","title":"RootBiomass","scale":{"domain":[-0.0038,0.162],"nice":false,"zero":false},"axis":{"values":[0,0.05,0.1,0.15],"format":".2f"}}},
  "layer":[
   {"data":{"name":"rb"},"mark":{"type":"point","filled":false,"strokeWidth":1,"size":32,"opacity":1},
    "encoding":{"color":{"field":"w","type":"nominal","scale":{"domain":["LW","WW"],"range":["#6a9a6e","#e08a12"]},
      "legend":{"title":"Water_Regime","legendX":122.5,"legendY":368,"symbolType":{"expr":"datum.value === 'LW' ? 'M-4.2,0H-0.55M0.55,0H4.2M0.55,0A0.55,0.55 0 1,1 -0.55,0A0.55,0.55 0 1,1 0.55,0' : 'M-4.2,0H-3M-2.2,0H-1M1,0H2.2M3,0H4.2M-0.7,0H0.7M0,-0.7V0.7'"}}},
     "shape":{"condition":{"test":"datum.w === 'WW'","value":"M-1.2,0H1.2M0,-1.2V1.2"},"value":"circle"}}},
   {"data":{"name":"rbm"},"transform":[{"filter":"datum.w === 'LW'"}],"mark":{"type":"line","stroke":"#86a98a","strokeWidth":1.5},"encoding":{}},
   {"data":{"name":"rbm"},"transform":[{"filter":"datum.w === 'WW'"}],"mark":{"type":"line","stroke":"#e5a04a","strokeWidth":1.5,"strokeDash":[8,5]},"encoding":{}}
  ]}
]}
]
}
